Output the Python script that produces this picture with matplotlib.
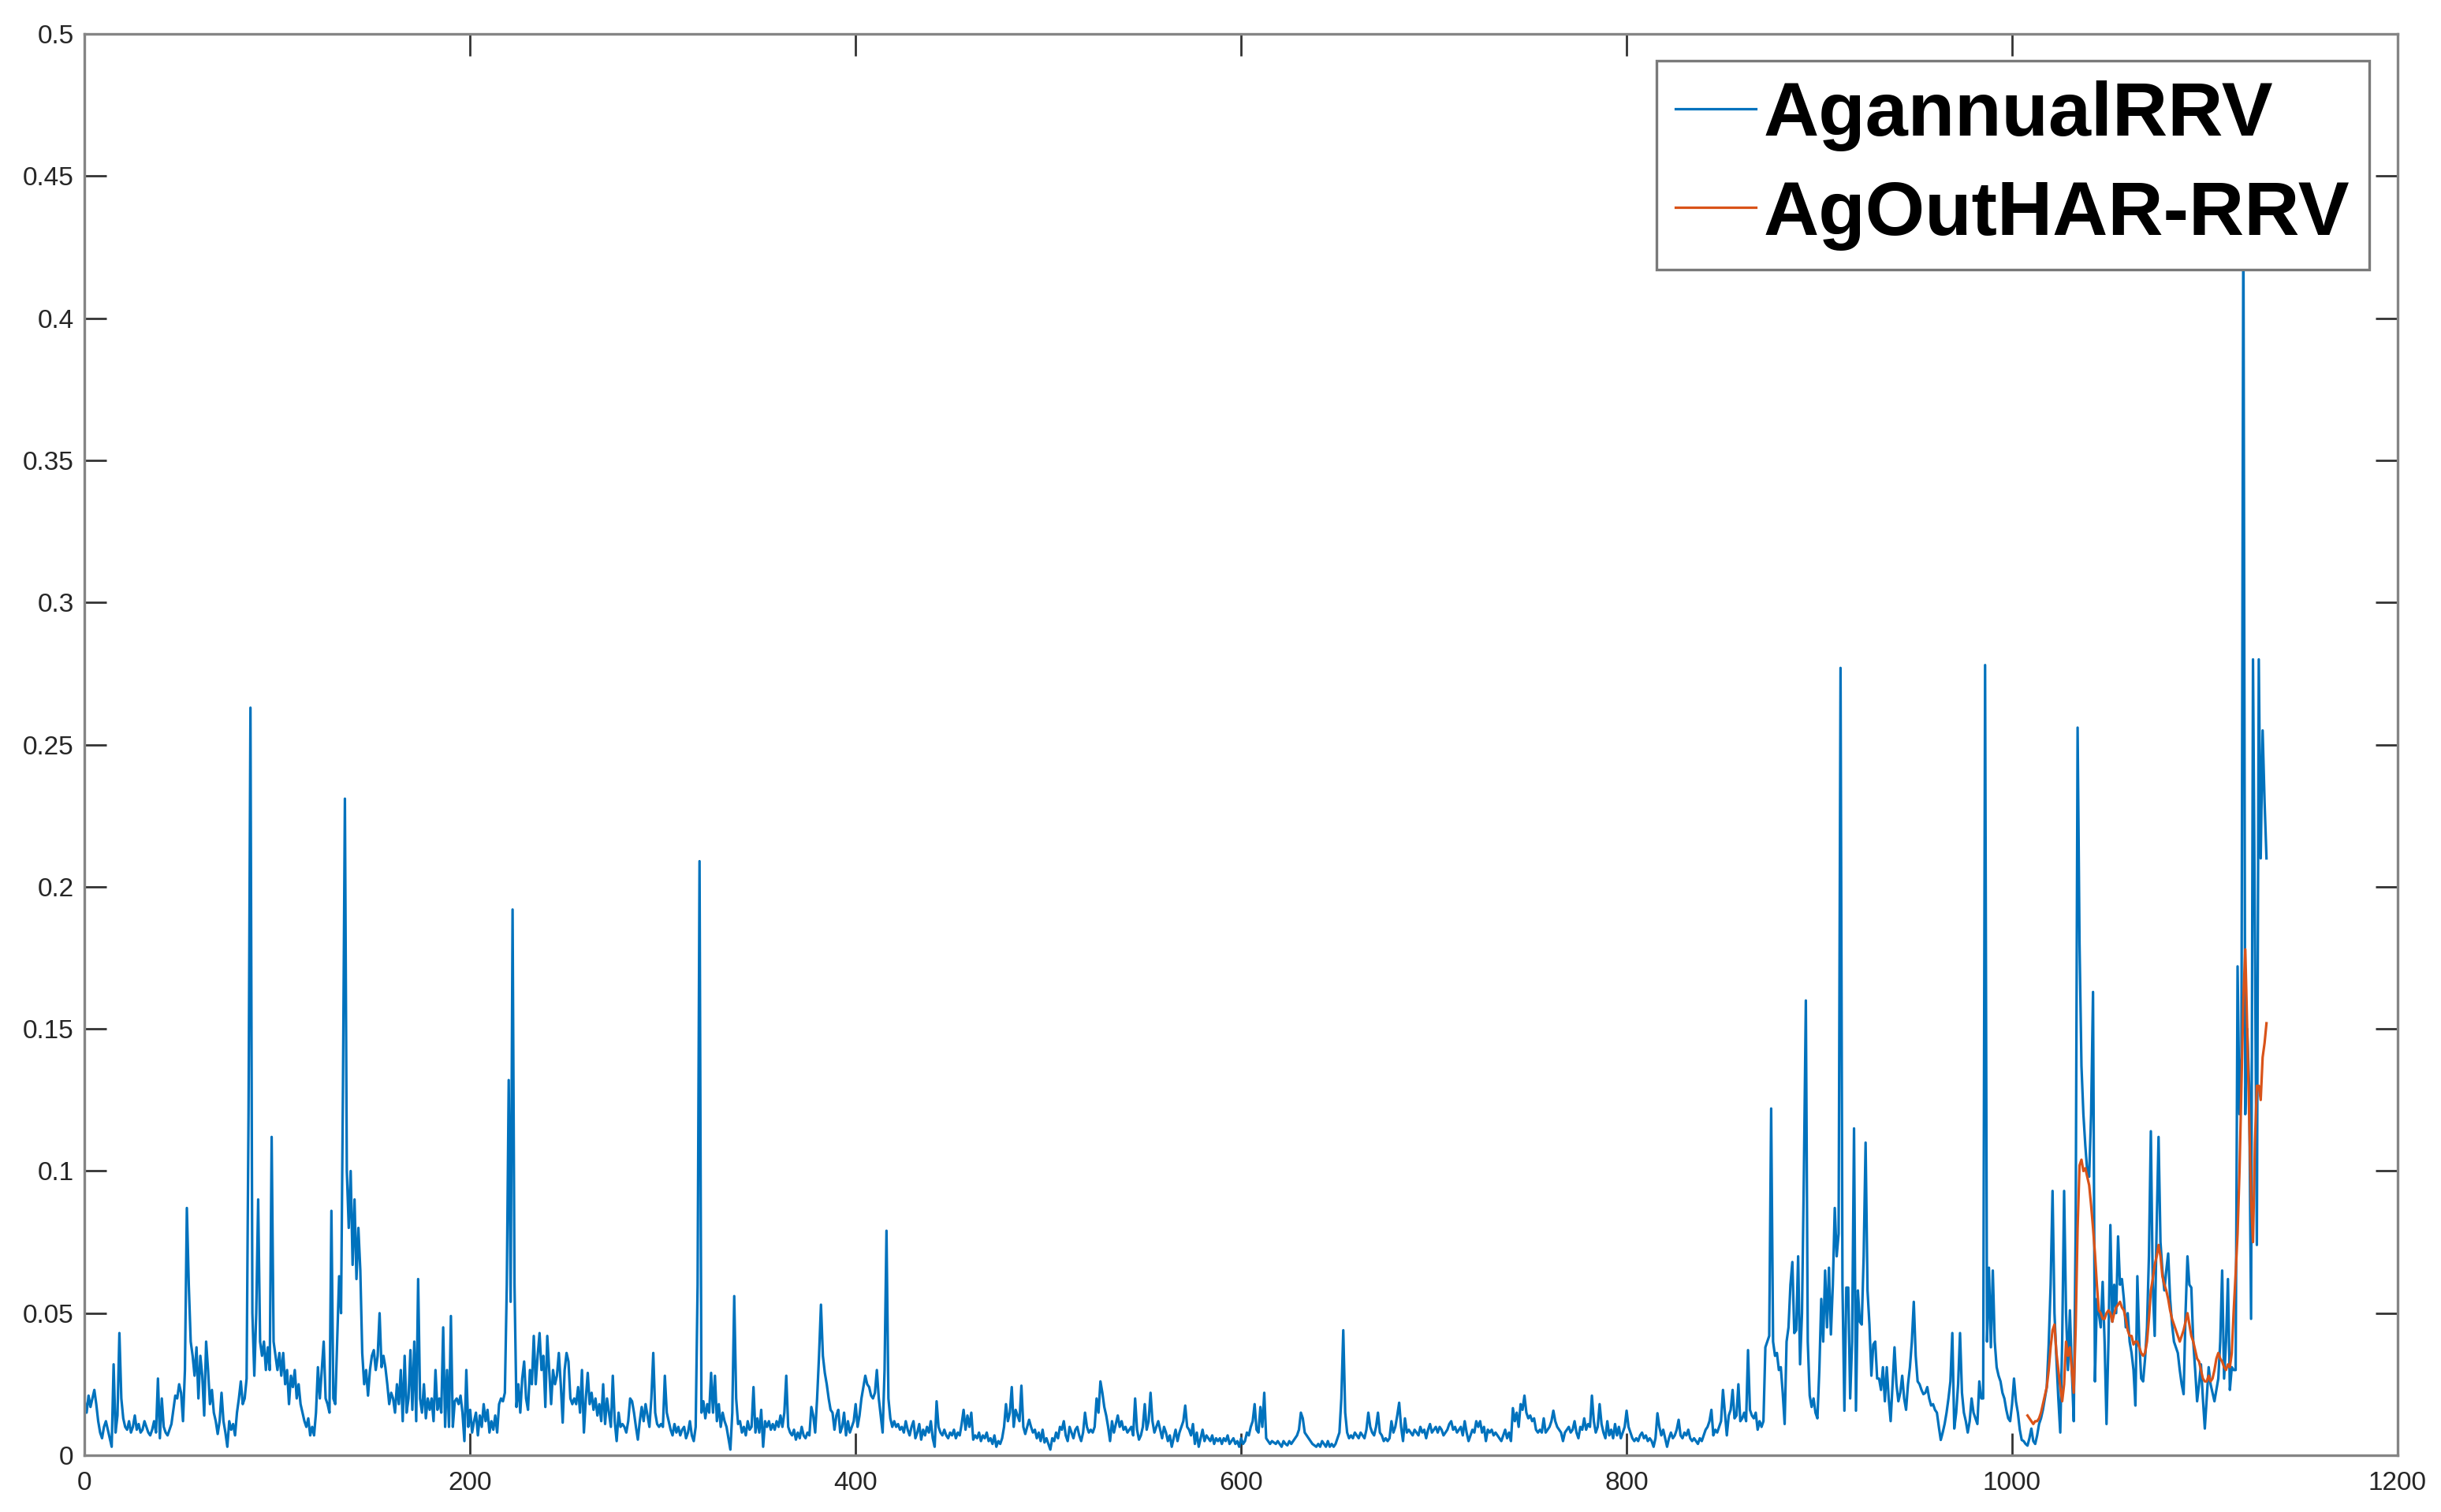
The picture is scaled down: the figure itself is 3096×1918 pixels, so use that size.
import numpy as np
import matplotlib
matplotlib.use("Agg")
import matplotlib.pyplot as plt
from matplotlib.ticker import FuncFormatter

# values, in thousandths (x = 0, 1, 2, ...)
ag_annual_rrv = [
    19, 15, 21, 17, 20, 23, 18, 12, 8, 6,            # 0
    10, 12, 9, 6, 3, 32, 8, 14, 43, 20,
    13, 10, 9, 12, 8, 10, 14, 9, 11, 8,
    9, 12, 10, 8, 7, 9, 12, 8, 27, 6,
    20, 10, 8, 7, 9, 11, 16, 21, 20, 25,
    22, 12, 30, 87, 60, 40, 35, 28, 38, 20,          # 50
    35, 28, 14, 40, 30, 18, 23, 15, 12, 7.5,
    12, 22, 12, 8, 3, 12, 9, 11, 7, 15,
    20, 26, 18, 20, 27, 120, 263, 50, 28, 50,
    90, 40, 35, 40, 30, 38, 30, 112, 40, 35,
    30, 36, 28, 36, 25, 30, 18, 28, 24, 30,          # 100
    20, 25, 18, 15, 12, 10, 13, 7, 10, 7,
    15, 31, 20, 30, 40, 20, 18, 15, 86, 20,
    18, 40, 63, 50, 130, 231, 100, 80, 100, 67,
    90, 62, 80, 65, 36, 25, 30, 21, 30, 35,
    37, 30, 35, 50, 31, 35, 31, 25, 18, 22,          # 150
    20, 15, 25, 18, 30, 12, 35, 15, 20, 37,
    16, 40, 12, 62, 20, 15, 25, 13, 20, 16,
    20, 12, 30, 16, 20, 15, 45, 10, 30, 10,
    49, 10, 19, 20, 18, 21, 15, 5, 30, 10,
    16, 8, 12, 15, 7, 14, 10, 18, 12, 16,            # 200
    8, 12, 9, 14, 8, 18, 20, 19, 22, 60,
    132, 54, 192, 60, 17, 25, 15, 27, 33, 20,
    16, 30, 25, 42, 25, 35, 43, 30, 35, 17,
    42, 30, 18, 30, 25, 28, 36, 25, 11.5, 30,
    36, 33, 20, 18, 20, 18, 24, 15, 30, 8,           # 250
    20, 29, 18, 22, 16, 20, 14, 18, 12, 25,
    11, 20, 15, 10, 28, 12, 5, 15, 10, 11,
    10, 8, 12, 20, 19, 15, 10, 5.5, 12, 17,
    12, 18, 14, 10, 20, 36, 15, 11, 10, 11,
    10, 28, 15, 12, 9, 7, 11, 8, 10, 7,              # 300
    9, 10, 6, 8, 12, 7, 5, 10, 60, 209,
    15, 19, 13, 18, 15, 29, 15, 28, 12, 18,
    10, 15, 12, 10, 6, 2, 15, 56, 20, 11,
    12, 8, 10, 7, 12, 9, 10, 24, 8, 13,
    8, 16, 3, 12, 10, 12, 9, 11, 9, 12,              # 350
    10, 14, 10, 15, 28, 10, 8, 7, 9, 5.5,
    8, 6, 10, 7, 6, 8, 7, 17, 14, 8,
    20, 35, 53, 35, 29, 25, 20, 16, 15, 9,
    14, 16, 8, 10, 15, 7, 12, 8, 10, 12,
    18, 10, 14, 20, 24, 28, 25, 24, 21, 20,          # 400
    22, 30, 20, 14, 8, 30, 79, 20, 13, 10,
    12, 10, 11, 9, 10, 8, 12, 9, 7, 10,
    12, 6, 8, 11, 5.5, 9, 7, 10, 8, 12,
    6, 3, 19, 10, 8, 7, 9, 7, 6, 8,
    7, 9, 6, 8, 7, 11, 16, 9, 14, 10,                # 450
    15, 5.5, 7, 6, 8, 5, 7, 6, 8, 5,
    6, 4, 7, 3, 5, 4, 6, 10, 18, 12,
    15, 24, 10, 16, 14, 12, 24.5, 10, 7.5, 10,
    12.5, 10, 8, 9, 6, 8, 5, 9, 4.5, 6,
    4, 2, 6, 5, 8, 6, 10, 9, 12, 7,                  # 500
    5, 10, 8, 6, 9, 10, 7, 5, 8, 15,
    10, 8, 9, 8, 10, 20, 15, 26, 22, 17,
    14, 10, 5, 12, 8, 11, 14, 10, 12, 9,
    10, 8, 9, 10, 7, 20, 9, 5.5, 7, 10,
    18, 9, 12, 22, 12, 8, 10, 12, 9, 6,              # 550
    10, 8, 5, 7, 3, 6, 9, 5, 8, 10,
    12, 17.5, 10, 9, 7, 11, 4, 8, 3, 6,
    9, 5, 7, 6, 5, 7, 4, 6, 5, 6,
    4, 6, 5, 7, 4, 5, 6, 4, 5, 3,
    6, 4, 5, 8, 7, 10, 12, 18, 9, 8,                 # 600
    17, 10, 22, 6, 5, 4, 5, 4.5, 4, 5,
    4, 3, 5, 4, 3.5, 5, 4, 5, 6, 7,
    9, 15, 13, 8, 7, 6, 5, 4, 3.5, 3,
    4, 3, 5, 4, 3, 5, 3, 4, 3, 4,
    6, 8, 20, 44, 15, 8, 6, 7, 6, 8,                 # 650
    7, 6, 8, 7, 6, 9, 15, 10, 8, 7,
    10, 15, 8, 7, 5, 6, 5, 6, 12, 8,
    10, 14, 18.5, 10, 5, 13, 8, 9, 8, 7,
    9, 8, 7, 10, 8, 9, 6, 9, 11, 8,
    9, 10, 8, 10, 9, 7, 8, 9, 11, 12,                # 700
    9, 10, 8, 9, 10, 7, 12, 8, 5, 7,
    9, 8, 12, 10, 12, 8, 10, 5, 9, 8,
    9, 7, 8, 7, 6, 5, 7, 9, 6, 8,
    5, 16.6, 12, 15, 10, 18, 16, 21, 15, 13,
    14, 12, 13, 9, 8, 9, 8, 13, 8, 9,                # 750
    10, 12, 15.7, 12, 10, 9, 8, 5, 8, 9,
    10, 8, 9, 12, 8, 6, 10, 9, 13, 9,
    11, 10, 21, 12, 8, 10, 18, 11, 8, 6,
    12, 7, 9, 6, 11, 7, 10, 6, 8, 10,
    15.7, 10, 8, 6, 5, 6, 5, 7, 8, 6,                # 800
    7, 5, 6, 5, 3, 6, 14.8, 10, 7, 9,
    6, 3, 6, 8, 6, 7, 9, 12.5, 7, 6,
    8, 7, 9, 6, 5, 6, 5, 4, 6, 5,
    7, 9, 10, 12, 16, 7, 9, 8, 10, 12,
    23, 15, 7, 14, 16, 23, 13, 14, 25, 12,           # 850
    13, 15, 12, 37, 16, 14, 13, 15, 9, 12,
    10, 12, 38, 40, 42, 122, 40, 35, 36, 30,
    31, 22, 11, 40, 45, 60, 68, 43, 44, 70,
    32, 50, 100, 160, 40, 21, 17, 20, 15, 13,
    30, 55, 40, 65, 45, 66, 42.5, 60, 87, 70,        # 900
    78, 277, 60, 15.7, 59, 59, 20, 40, 115, 15.7,
    58, 47, 46, 70, 110, 58, 46, 28, 39, 40,
    27, 27, 23, 31, 19, 31, 20, 12, 25, 38,
    25, 19, 22, 28, 20, 16, 25, 31, 40, 54,
    35, 26, 25, 23, 21.5, 22, 24, 20, 17.5, 18,      # 950
    16, 15, 10, 5.4, 8, 11, 15, 20, 26, 43,
    9.4, 15, 25, 43, 22, 15, 12, 8, 12, 20,
    15, 13, 11, 26, 20, 20, 278, 40, 66, 38,
    65, 40, 31, 28, 26, 22, 20, 16, 13, 12,
    18, 27, 19, 15, 9, 5.4, 5, 4, 3.4, 6,            # 1000
    9.4, 5, 4, 7, 11, 13, 16, 20, 24, 39,
    60, 93, 50, 34, 20, 8, 40, 93, 50, 30,
    51, 30, 12, 80, 256, 180, 137, 120, 109, 100,
    98, 120, 163, 26, 55, 50, 45, 61, 40, 11,
    40, 81, 47, 60, 50, 77, 60, 62, 55, 45,          # 1050
    50, 40, 36, 30, 17.5, 63, 40, 27, 26, 34,
    45, 70, 114, 60, 42, 80, 112, 75, 65, 58,
    65, 71, 55, 46, 40, 38, 36, 30, 25, 21.5,
    50, 70, 60, 59, 40, 30, 19, 25, 32, 20,
    9.4, 20, 31, 25, 22, 19, 23, 27, 40, 65,         # 1100
    27, 40, 62, 23, 31, 30, 30, 172, 120, 140,
    440, 120, 150, 130, 48, 280, 183, 74, 280, 210,
    255, 230, 210,
]

# out-of-sample HAR-RRV forecast, starts at x = 1008
har_start = 1008
ag_out_har_rrv = [
    14, 13, 12, 11, 12, 12, 13, 15, 18, 21,          # 1008
    24, 30, 38, 44, 46, 36, 30, 24, 19, 25,
    40, 35, 38, 30, 22, 45, 80, 102, 104, 100,
    101, 98, 95, 88, 80, 71, 60, 51, 50, 48,
    48, 50, 51, 50, 47, 50, 52, 53, 54, 52,
    51, 48, 44, 42, 42, 39, 40, 40, 38, 36,
    35, 36, 40, 48, 58, 62, 67, 70, 74, 70,
    63, 60, 58, 55, 51, 48, 46, 44, 42, 40,
    42, 44, 47, 50, 46, 42, 40, 37, 34, 33,
    30, 27, 26, 26, 28, 26, 27, 30, 34, 36,
    34, 33, 31, 30, 32, 31, 36, 51, 64, 78,
    100, 130, 160, 178, 150, 120, 90, 75, 110, 130,
    130, 125, 140, 145, 152,
]

labels = ["AgannualRRV", "AgOutHAR-RRV"]
x_ticks = [0, 200, 400, 600, 800, 1000, 1200]
y_ticks = [0, 0.05, 0.1, 0.15, 0.2, 0.25, 0.3, 0.35, 0.4, 0.45, 0.5]

plt.rcParams["font.family"] = ["Liberation Sans", "DejaVu Sans"]

rrv = np.array(ag_annual_rrv) / 1000.0
har = np.array(ag_out_har_rrv) / 1000.0
x_rrv = np.arange(len(rrv))
x_har = har_start + np.arange(len(har))

fig = plt.figure(figsize=(15.48, 9.59), dpi=200)
ax = fig.add_axes([0.0347, 0.0375, 0.9475, 0.9400])

ax.plot(x_rrv, rrv, color="#0072BD", linewidth=1.15, label=labels[0])
ax.plot(x_har, har, color="#D95319", linewidth=1.15, label=labels[1])

ax.set_xlim(0, 1200)
ax.set_ylim(0, 0.5)
ax.set_xticks(x_ticks)
ax.set_yticks(y_ticks)
ax.xaxis.set_major_formatter(FuncFormatter(lambda v, _p: f"{v:g}"))
ax.yaxis.set_major_formatter(FuncFormatter(lambda v, _p: f"{v:g}"))

# matlab-ish box: ticks inside on all four sides, grey frame
for spine in ax.spines.values():
    spine.set_color("#858585")
    spine.set_linewidth(1.2)
ax.tick_params(direction="in", length=10, width=1.0, color="#333333",
               labelsize=12, labelcolor="#262626",
               top=True, right=True)
ax.tick_params(axis="y", pad=5)
ax.tick_params(axis="x", pad=7)

leg = ax.legend(loc="upper right", bbox_to_anchor=(0.9877, 0.9811),
                borderaxespad=0, fancybox=False, framealpha=1,
                edgecolor="#7a7a7a", handlelength=1.05, handletextpad=0.1,
                borderpad=0.25, labelspacing=0.37,
                prop={"family": "Liberation Sans", "weight": "bold", "size": 35})
leg.get_frame().set_linewidth(1.2)

fig.savefig("out.png", dpi=200, facecolor="white")
